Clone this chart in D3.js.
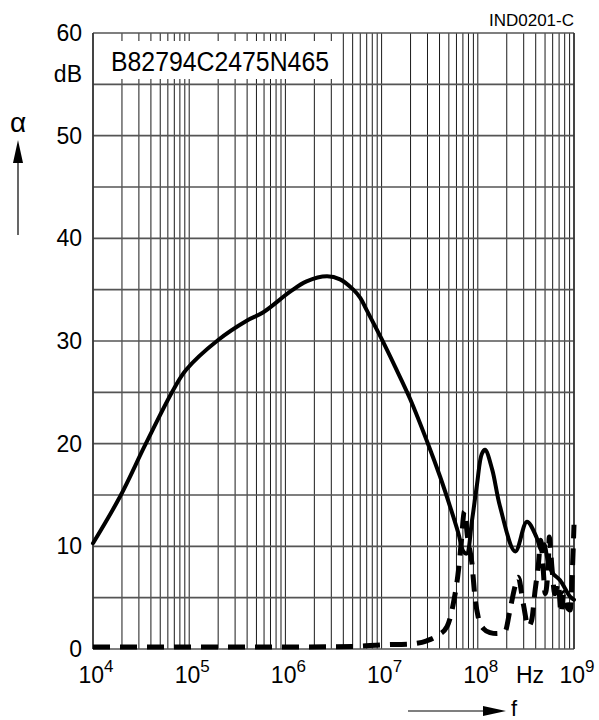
<!DOCTYPE html>
<html><head><meta charset="utf-8">
<script src="https://cdn.jsdelivr.net/npm/d3@7/dist/d3.min.js"></script>
<style>
html,body{margin:0;padding:0;background:#fff;}
svg{display:block;font-family:"Liberation Sans",Arial,Helvetica,sans-serif;}
</style></head>
<body>
<svg id="chart" width="599" height="720"></svg>
<script>
// ---- data ----
const yTicks = [0, 10, 20, 30, 40, 50, 60];
const yGrid = [0, 5, 10, 15, 20, 25, 30, 35, 40, 45, 50, 55, 60];
const xDecades = [1e4, 1e5, 1e6, 1e7, 1e8, 1e9];
const xTickExp = ["4", "5", "6", "7", "8", "9"];
const partLabel = "B82794C2475N465";
const docLabel = "IND0201-C";

// solid curve (frequency Hz, attenuation dB)
const solidF = [1.0e4, 1.9e4, 3.5e4, 6.8e4, 9.3e4, 2.0e5, 4.0e5, 5.9e5, 1.12e6, 1.66e6, 2.7e6, 3.7e6, 5.08e6, 6.0e6, 7.0e6,
  1.0e7, 1.38e7, 1.97e7, 3.06e7, 4.05e7, 5.14e7, 6.27e7, 7.08e7, 7.67e7, 8.7e7, 9.8e7, 1.1e8, 1.19e8, 1.41e8, 1.70e8,
  2.45e8, 3.24e8, 4.07e8, 4.57e8, 4.9e8, 5.37e8, 6.0e8, 7.16e8, 9.1e8, 1.0e9];
const solidDB = [10.3, 14.8, 19.9, 25.2, 27.2, 30.1, 32.0, 32.8, 34.8, 35.8, 36.3, 36.0, 35.0, 34.2, 33.0,
  30.2, 27.5, 24.4, 19.9, 16.8, 13.9, 11.3, 9.5, 9.3, 12.5, 16.0, 19.0, 19.4, 17.5, 13.9,
  9.5, 12.4, 10.9, 9.6, 10.2, 8.5, 7.4, 6.7, 5.1, 4.8];

// dashed curve
const dashF = [1.0e4, 1.0e5, 1.0e6, 5.0e6, 1.0e7, 2.07e7, 2.95e7, 3.8e7, 4.8e7, 5.56e7, 6.3e7, 6.76e7, 7.24e7, 7.85e7,
  8.7e7, 9.33e7, 1.01e8, 1.14e8, 1.34e8, 1.57e8, 1.92e8, 2.16e8, 2.44e8, 2.63e8, 2.97e8, 3.35e8, 3.63e8, 3.94e8,
  4.27e8, 4.51e8, 4.79e8, 5.01e8, 5.41e8, 5.53e8, 5.89e8, 6.31e8, 6.87e8, 7.33e8, 7.87e8, 8.45e8, 9.12e8, 9.68e8, 1.0e9];
const dashDB = [0.2, 0.2, 0.2, 0.25, 0.4, 0.5, 0.8, 1.3, 2.2, 4.4, 7.7, 10.6, 13.4, 10.8,
  8.3, 5.1, 3.1, 2.0, 1.6, 1.5, 1.7, 3.8, 6.1, 7.0, 4.4, 2.2, 2.8, 5.7,
  8.3, 10.6, 7.7, 5.4, 8.3, 10.9, 8.0, 5.4, 6.4, 3.5, 5.5, 4.1, 3.8, 8.3, 12.1];

// ---- layout ----
const L = 93, R = 574, T = 33, B = 649;
const svg = d3.select("#chart");
const x = d3.scaleLog().domain([1e4, 1e9]).range([L, R]);
const y = d3.scaleLinear().domain([0, 60]).range([B, T]);

// minor decade ticks
const xGridVals = [];
for (let i = 0; i < xDecades.length - 1; i++) {
  for (let m = 1; m <= 9; m++) xGridVals.push(xDecades[i] * m);
}
xGridVals.push(xDecades[xDecades.length - 1]);

const grid = svg.append("g");
grid.selectAll("line.v").data(xGridVals).join("line")
  .attr("x1", d => x(d)).attr("x2", d => x(d))
  .attr("y1", T).attr("y2", B)
  .attr("stroke", "#1a1a1a").attr("stroke-width", 1);

// white label box covering grid
svg.append("rect").attr("x", L + 1).attr("y", 41).attr("width", 238).attr("height", 38).attr("fill", "#fff");

grid.selectAll("line.h").data(yGrid).join("line")
  .attr("x1", L).attr("x2", R)
  .attr("y1", d => y(d)).attr("y2", d => y(d))
  .attr("stroke", "#555").attr("stroke-width", 1.6);

// frame
svg.append("line").attr("x1", L).attr("x2", L).attr("y1", T).attr("y2", B).attr("stroke", "#333").attr("stroke-width", 1.6);
svg.append("line").attr("x1", R).attr("x2", R).attr("y1", T).attr("y2", B).attr("stroke", "#333").attr("stroke-width", 1.6);

// curves
const dashGen = d3.line().x(d => x(d[0])).y(d => y(d[1])).curve(d3.curveMonotoneX);
const solidGen = d3.line().x(d => x(d[0])).y(d => y(d[1])).curve(d3.curveCatmullRom.alpha(0.5));
svg.append("path").datum(dashF.map((f, i) => [f, dashDB[i]]))
  .attr("d", dashGen).attr("fill", "none").attr("stroke", "#000")
  .attr("stroke-width", 5).attr("stroke-dasharray", "17,10").attr("stroke-linejoin", "round");
svg.append("path").datum(solidF.map((f, i) => [f, solidDB[i]]))
  .attr("d", solidGen).attr("fill", "none").attr("stroke", "#000")
  .attr("stroke-width", 4).attr("stroke-linejoin", "round").attr("stroke-linecap", "round");

// texts
svg.append("text").attr("x", 111).attr("y", 71).attr("font-size", 27)
  .attr("textLength", 218).attr("lengthAdjust", "spacingAndGlyphs").text(partLabel);
svg.append("text").attr("x", R).attr("y", 26).attr("font-size", 17).attr("text-anchor", "end").text(docLabel);

svg.selectAll("text.yt").data(yTicks).join("text")
  .attr("x", 82).attr("y", d => y(d) + 8).attr("text-anchor", "end")
  .attr("font-size", 23).text(d => d);
svg.append("text").attr("x", 82).attr("y", 82).attr("text-anchor", "end").attr("font-size", 23).text("dB");

const xt = svg.selectAll("text.xt").data(xDecades).join("text")
  .attr("x", d => x(d) + 3).attr("y", 683).attr("text-anchor", "middle").attr("font-size", 23);
xt.append("tspan").text("10");
xt.append("tspan").attr("dy", -11).attr("font-size", 17).text((d, i) => xTickExp[i]);
svg.append("text").attr("x", 530).attr("y", 683).attr("text-anchor", "middle").attr("font-size", 23).text("Hz");

// axis arrows
svg.append("text").attr("x", 18).attr("y", 132).attr("text-anchor", "middle").attr("font-size", 28).text("α");
svg.append("line").attr("x1", 18).attr("x2", 18).attr("y1", 235).attr("y2", 160).attr("stroke", "#000").attr("stroke-width", 1.2);
svg.append("path").attr("d", "M18,140 L13,163 L23,163 Z").attr("fill", "#000");

svg.append("line").attr("x1", 408).attr("x2", 486).attr("y1", 711).attr("y2", 711).attr("stroke", "#000").attr("stroke-width", 1.2);
svg.append("path").attr("d", "M506,711 L483,706 L483,716 Z").attr("fill", "#000");
svg.append("text").attr("x", 514).attr("y", 716).attr("text-anchor", "middle").attr("font-size", 22).text("f");
</script>
</body></html>
